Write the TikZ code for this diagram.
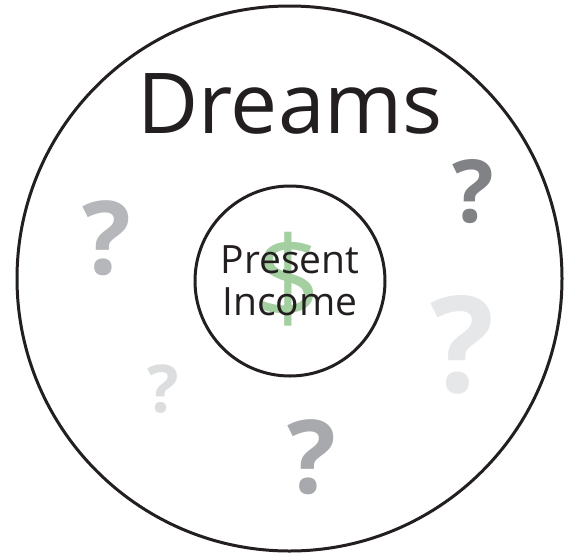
\documentclass[tikz,border=0pt]{standalone}
\usepackage{fontspec}
\setmainfont{Open Sans}
\usepackage{xcolor}
\usepackage{tikz}
\definecolor{ink}{HTML}{231F20}
\definecolor{cash}{HTML}{A4CFA0}
\definecolor{qdark}{HTML}{808285}
\definecolor{qmid}{HTML}{A7A9AC}
\definecolor{qsoft}{HTML}{B6B7BA}
\definecolor{qpale}{HTML}{DCDDDE}
\definecolor{qfaint}{HTML}{E6E7E8}
\newcommand{\fsize}[1]{\fontsize{#1}{#1}\selectfont}

\begin{document}
\begin{tikzpicture}[x=1pt, y=-1pt,
    ring/.style={draw=ink, line width=3pt, circle, inner sep=0pt},
    ask/.style={inner sep=0pt, anchor=center, font=\bfseries},
    words/.style={inner sep=0pt, anchor=base, text=ink}
  ]
    \useasboundingbox (0,0) rectangle (570,557);
    \node[ring, minimum size=545pt] (dreamring) at (289.5,278.5) {};
    \node[words, font=\fsize{84}] (dreams) at (290,133) {Dreams};
    % question marks scattered round the inner circle
    \node[ask, text=qsoft, font=\fsize{102}\bfseries] (q1) at (107,238) {?};
    \node[ask, text=qdark, font=\fsize{87}\bfseries] (q2) at (473,192) {?};
    \node[ask, text=qfaint, font=\fsize{134}\bfseries] (q3) at (462,345) {?};
    \node[ask, text=qpale, font=\fsize{66}\bfseries] (q4) at (163,389) {?};
    \node[ask, text=qmid, font=\fsize{102}\bfseries] (q5) at (312,457) {?};
    % inner circle
    \node[inner sep=0pt, text=cash, font=\fsize{115}] (dollar) at (288,279) {\$};
    \node[ring, minimum size=190pt] (incomering) at (290,281) {};
    \node[words, font=\fsize{39}] (present) at (290,273) {Present};
    \node[words, font=\fsize{39}] (income) at (290,315) {Income};
  \end{tikzpicture}
\end{document}
